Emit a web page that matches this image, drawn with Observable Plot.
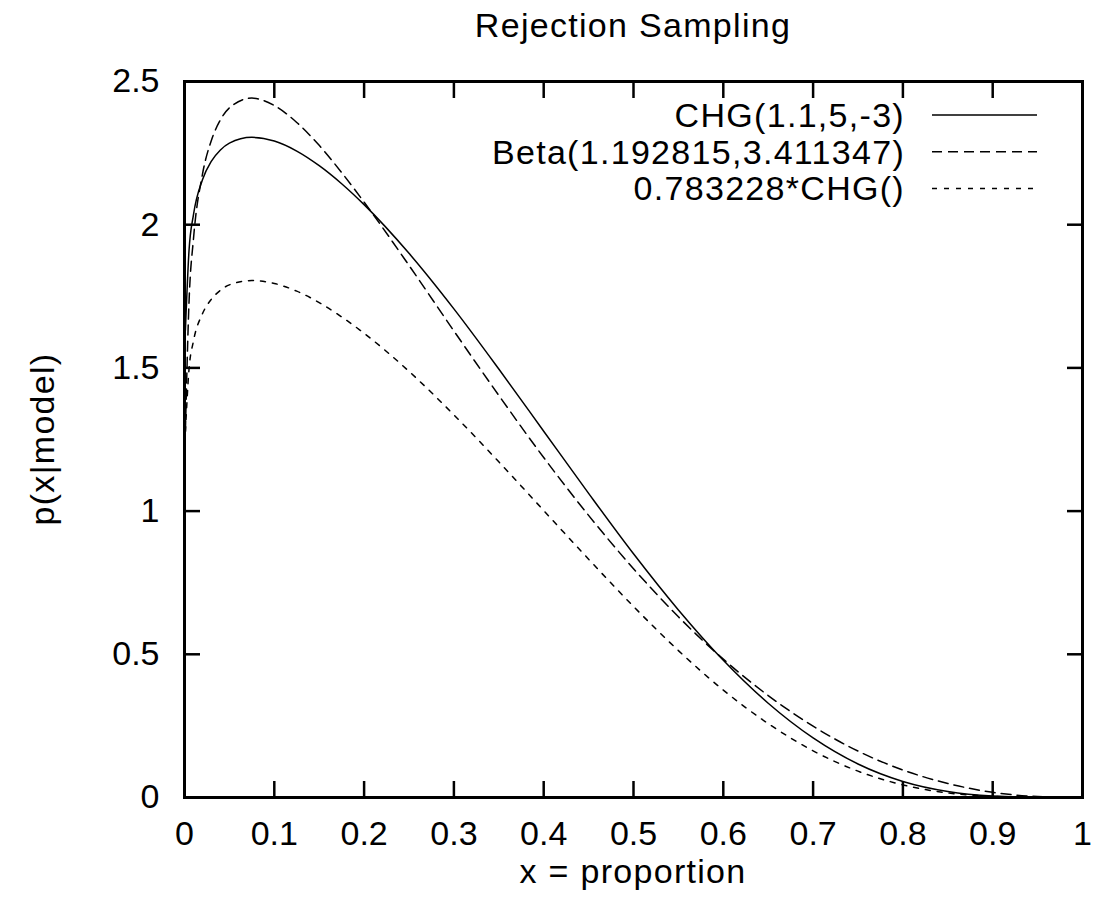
<!DOCTYPE html>
<html>
<head>
<meta charset="utf-8">
<script src="https://cdn.jsdelivr.net/npm/d3@7"></script>
<script src="https://cdn.jsdelivr.net/npm/@observablehq/plot@0.6"></script>
<style>
  body { margin: 0; background: #fff; }
  #chart svg { display: block; }
</style>
</head>
<body>
<div id="chart"></div>
<script>
// ---- data ----
const xValues      = [0.001, 0.005, 0.01, 0.02, 0.03, 0.04, 0.05, 0.075, 0.1, 0.125, 0.15, 0.175, 0.2, 0.25, 0.3, 0.35, 0.4, 0.45, 0.5, 0.55, 0.6, 0.65, 0.7, 0.75, 0.8, 0.85, 0.9, 0.95, 1];
const chgValues    = [1.631, 1.908, 2.035, 2.157, 2.222, 2.261, 2.285, 2.305, 2.292, 2.257, 2.206, 2.143, 2.070, 1.900, 1.706, 1.496, 1.279, 1.062, 0.851, 0.655, 0.479, 0.329, 0.208, 0.117, 0.056, 0.021, 0.005, 0.0004, 0];
const betaValues   = [1.279, 1.727, 1.951, 2.176, 2.295, 2.366, 2.408, 2.442, 2.416, 2.357, 2.277, 2.182, 2.079, 1.858, 1.629, 1.404, 1.187, 0.985, 0.799, 0.631, 0.483, 0.356, 0.249, 0.162, 0.096, 0.049, 0.018, 0.0035, 0];
const scaledValues = [1.277, 1.494, 1.594, 1.689, 1.740, 1.771, 1.790, 1.805, 1.795, 1.768, 1.728, 1.678, 1.621, 1.488, 1.336, 1.172, 1.002, 0.832, 0.667, 0.513, 0.375, 0.258, 0.163, 0.092, 0.044, 0.016, 0.004, 0.0003, 0];
const seriesNames  = ["CHG(1.1,5,-3)", "Beta(1.192815,3.411347)", "0.783228*CHG()"];
const xTicks       = [0, 0.1, 0.2, 0.3, 0.4, 0.5, 0.6, 0.7, 0.8, 0.9, 1];
const yTicks       = [0, 0.5, 1, 1.5, 2, 2.5];
const titleText    = "Rejection Sampling";
const xLabelText   = "x = proportion";
const yLabelText   = "p(x|model)";

// ---- styles ----
const FONT = "'Liberation Sans', Arial, Helvetica, sans-serif";
const FS = 34;
const LS = "1.3px";
const dashes = [null, "10,6", "5,7"];
const lineWidth = 1.5;

// table built from the arrays
const table = xValues.map((x, i) => ({x, chg: chgValues[i], beta: betaValues[i], scaled: scaledValues[i]}));
const keys = ["chg", "beta", "scaled"];

function decorations(index, scales, values, dimensions) {
  const {width, height, marginTop, marginRight, marginBottom, marginLeft} = dimensions;
  const right = width - marginRight;
  const cx = (marginLeft + right) / 2;
  const cy = (marginTop + height - marginBottom) / 2;
  const g = d3.create("svg:g").attr("font-family", FONT).attr("fill", "black");
  g.append("text").attr("x", cx).attr("y", 37).attr("text-anchor", "middle")
    .attr("font-size", FS).attr("letter-spacing", LS).text(titleText);
  g.append("text").attr("x", cx).attr("y", height - marginBottom + 86).attr("text-anchor", "middle")
    .attr("font-size", FS).attr("letter-spacing", LS).text(xLabelText);
  g.append("text").attr("transform", `translate(42,${cy}) rotate(-90)`).attr("text-anchor", "middle")
    .attr("dy", "0.35em").attr("font-size", FS).attr("letter-spacing", LS).text(yLabelText);
  seriesNames.forEach((name, i) => {
    const y = marginTop + 34 + i * 36.7;
    g.append("text").attr("x", right - 177).attr("y", y).attr("dy", "0.35em").attr("text-anchor", "end")
      .attr("font-size", FS).attr("letter-spacing", LS).text(name);
    const ln = g.append("line").attr("x1", right - 150).attr("x2", right - 45).attr("y1", y).attr("y2", y)
      .attr("stroke", "black").attr("stroke-width", lineWidth);
    if (dashes[i]) ln.attr("stroke-dasharray", dashes[i]);
  });
  return g.node();
}

const chart = Plot.plot({
  width: 1103,
  height: 909,
  marginLeft: 184,
  marginRight: 21,
  marginTop: 81,
  marginBottom: 112,
  style: {fontFamily: FONT, fontSize: FS + "px", color: "black", background: "white"},
  x: {domain: [0, 1]},
  y: {domain: [0, 2.5]},
  marks: [
    ...keys.map((k, i) => Plot.line(table, {
      x: "x", y: k, curve: "monotone-x", stroke: "black", strokeWidth: lineWidth,
      strokeDasharray: dashes[i] || undefined
    })),
    // inward ticks on all four sides
    Plot.axisX(xTicks, {anchor: "bottom", tickSize: -16, tickFormat: () => "", label: null, strokeWidth: 2.5}),
    Plot.axisX(xTicks, {anchor: "top", tickSize: -16, tickFormat: () => "", label: null, strokeWidth: 2.5}),
    Plot.axisY(yTicks, {anchor: "left", tickSize: -16, tickFormat: () => "", label: null, strokeWidth: 2.5}),
    Plot.axisY(yTicks, {anchor: "right", tickSize: -16, tickFormat: () => "", label: null, strokeWidth: 2.5}),
    // tick labels
    Plot.axisX(xTicks, {anchor: "bottom", tickSize: 0, tickPadding: 23, tickFormat: d => String(d), label: null, fontSize: FS}),
    Plot.axisY(yTicks, {anchor: "left", tickSize: 0, tickPadding: 25, tickFormat: d => String(d), label: null, fontSize: FS}),
    Plot.frame({stroke: "black", strokeWidth: 3}),
    decorations
  ]
});
document.getElementById("chart").appendChild(chart);
</script>
</body>
</html>
